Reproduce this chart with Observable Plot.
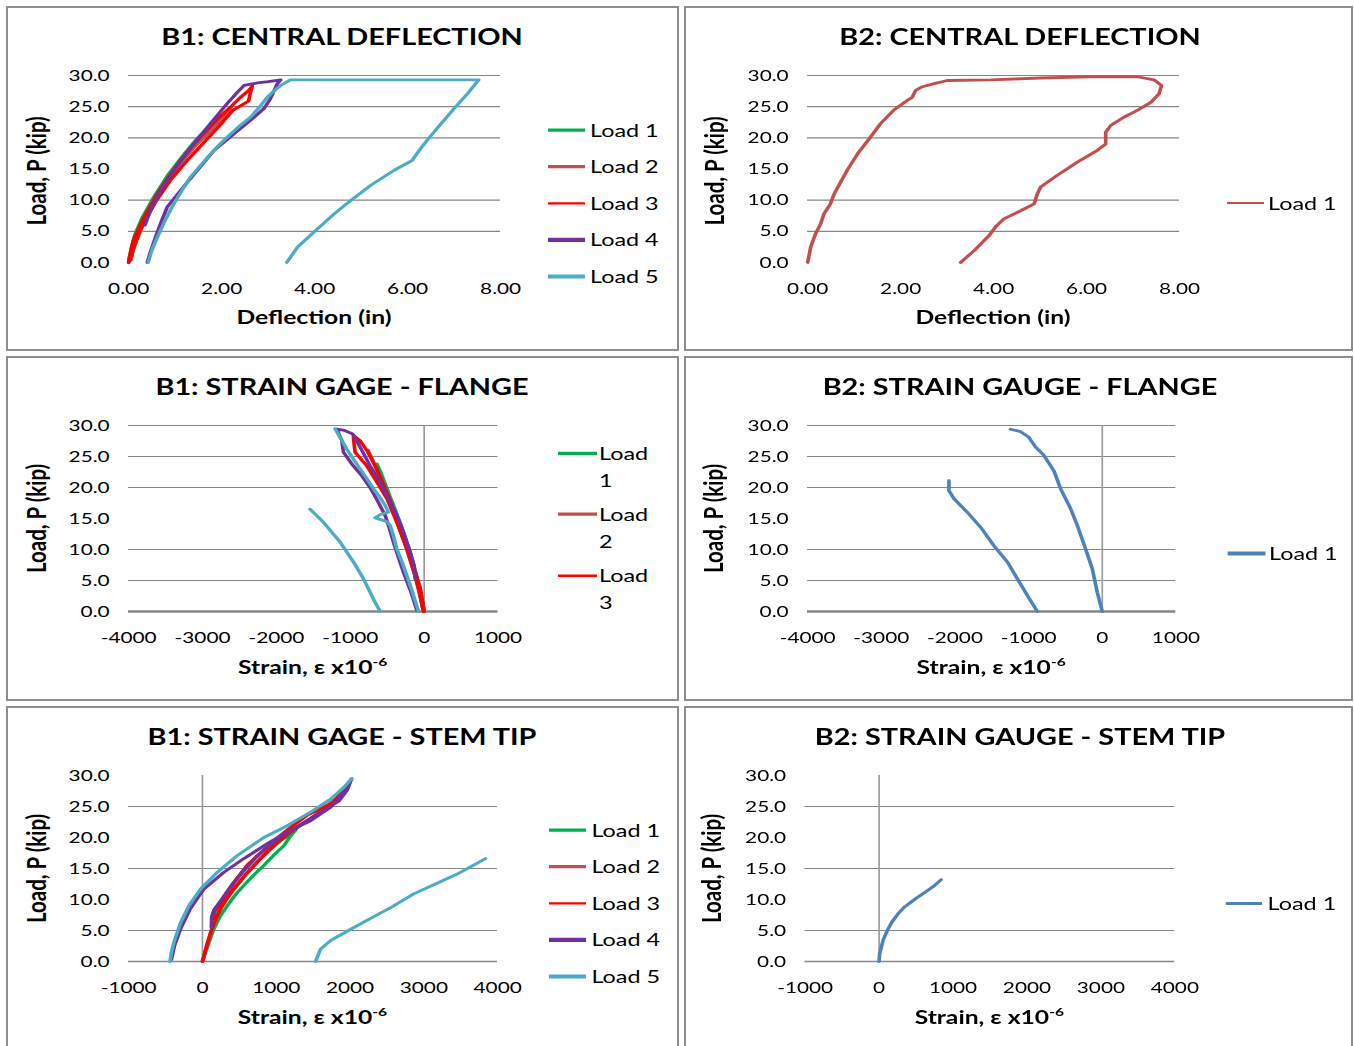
<!DOCTYPE html>
<html><head><meta charset="utf-8">
<script src="https://cdn.jsdelivr.net/npm/d3@7"></script>
<script src="https://cdn.jsdelivr.net/npm/@observablehq/plot@0.6"></script>
<style>
html,body{margin:0;padding:0;background:#fff;overflow:hidden;width:1354px;height:1046px;}
.panel{position:absolute;overflow:hidden;}
.inner{position:absolute;left:0;top:0;transform-origin:0 0;}
.inner svg{position:absolute;left:0;top:0;}
.frame{position:absolute;left:0;top:0;right:0;bottom:0;border:2px solid #8e8e8e;box-sizing:border-box;}
</style></head><body>
<script>
// ---------------- data ----------------
const loadTicks = [0, 5, 10, 15, 20, 25, 30];
const deflTicks = [0, 2, 4, 6, 8];
const flangeTicks = [-4000, -3000, -2000, -1000, 0, 1000];
const stemTicks = [-1000, 0, 1000, 2000, 3000, 4000];
const gridMain = [5, 10, 20, 25, 30];
const gridStem = [5, 15, 25];

const loadNames = ["Load 1", "Load 2", "Load 3", "Load 4", "Load 5"];
const loadColors = ["#00B050", "#C0504D", "#FF0000", "#7030A0", "#4BACC6"];
const b2DeflColor = "#C0504D";
const b2StrainColor = "#4F81BD";

// B1 central deflection [deflection in, load kip]
const b1DeflLoad1 = [[0,0],[0.06,2.4],[0.14,4.6],[0.3,7.3],[0.55,10.6],[0.85,14.1],[1.15,17.0],[1.45,19.7],[1.7,21.6],[1.8,22.2],[1.72,21.3],[1.5,19.6],[1.2,16.7],[0.9,13.6],[0.58,9.8],[0.28,5.6],[0.1,2.2],[0.05,0.4]];
const b1DeflLoad2 = [[0,0],[0.12,4.0],[0.4,8.0],[0.7,12.0],[1.0,15.2],[1.32,18.3],[1.65,21.0],[1.98,23.4],[2.2,24.8],[2.15,24.2],[1.85,21.8],[1.5,19.2],[1.15,16.3],[0.82,13.0],[0.48,9.2],[0.2,4.6],[0.04,0.5]];
const b1DeflLoad3 = [[0,0],[0.02,1.0],[0.1,3.5],[0.25,6.0],[0.4,8.2],[0.62,11.0],[0.85,13.6],[1.1,16.2],[1.38,18.8],[1.65,21.0],[1.92,23.1],[2.2,25.0],[2.42,26.6],[2.58,27.6],[2.66,28.3],[2.62,27.3],[2.58,25.9],[2.42,25.2],[2.24,24.4],[1.95,21.9],[1.6,19.1],[1.25,16.3],[0.9,13.2],[0.55,9.4],[0.25,5.2],[0.08,1.8],[0.03,0.3]];
const b1DeflLoad4 = [[0.35,6.0],[0.48,8.6],[0.69,11.55],[0.97,14.8],[1.15,16.6],[1.4,19.0],[1.76,22.3],[2.12,25.5],[2.3,27.0],[2.48,28.4],[2.77,28.8],[3.0,29.0],[3.27,29.3],[3.2,28.7],[3.13,27.6],[3.05,26.3],[2.91,24.7],[2.62,22.8],[2.26,20.6],[1.84,18.0],[1.48,14.8],[1.12,11.6],[0.83,8.9],[0.7,6.5],[0.58,4.1],[0.46,1.5],[0.4,0]];
const b1DeflLoad5 = [[0.42,0],[0.5,2.0],[0.62,4.1],[0.8,7.0],[0.97,9.4],[1.15,11.6],[1.33,13.7],[1.55,15.6],[1.76,17.4],[1.98,19.1],[2.19,20.6],[2.4,22.0],[2.62,23.3],[2.8,24.8],[2.98,26.5],[3.12,27.5],[3.27,28.4],[3.48,29.3],[4.5,29.3],[5.5,29.3],[6.5,29.3],[7.53,29.3],[7.3,27.2],[7.0,24.7],[6.7,22.1],[6.42,19.6],[6.25,18.0],[6.1,16.4],[5.71,14.8],[5.2,12.35],[4.77,9.9],[4.42,7.8],[3.99,4.9],[3.63,2.45],[3.4,0]];

// B2 central deflection
const b2DeflLoad1 = [[0,0],[0.065,2.45],[0.17,4.6],[0.28,6.2],[0.35,7.8],[0.49,9.4],[0.57,11.0],[0.71,12.9],[0.85,14.8],[1.07,17.4],[1.32,19.8],[1.57,22.3],[1.86,24.5],[2.14,26.0],[2.25,26.5],[2.32,27.6],[2.47,28.2],[2.72,28.7],[3.0,29.2],[3.94,29.3],[5.01,29.6],[6.09,29.8],[7.09,29.8],[7.45,29.3],[7.61,28.4],[7.56,27.1],[7.38,25.7],[7.09,24.4],[6.8,23.3],[6.52,22.0],[6.41,20.9],[6.41,19.0],[6.23,18.0],[5.8,16.1],[5.37,14.0],[5.01,12.1],[4.94,11.0],[4.87,9.4],[4.58,8.3],[4.22,7.0],[4.04,5.7],[3.9,4.3],[3.58,1.9],[3.29,0]];

// B1 strain gage - flange [microstrain, load kip]
const b1FlangeLoad1 = [[0,0],[-50,3.5],[-180,9.2],[-315,14.0],[-470,18.8],[-590,22.5],[-640,23.8],[-610,22.6],[-490,18.6],[-340,13.8],[-200,9.0],[-70,3.5],[-10,0]];
const b1FlangeLoad2 = [[0,0],[-55,3.7],[-190,9.0],[-330,14.0],[-505,19.2],[-650,23.0],[-760,26.0],[-700,24.5],[-560,20.5],[-400,15.5],[-240,10.2],[-110,5.2],[-15,0.3]];
const b1FlangeLoad3 = [[0,0],[-54,3.7],[-190,9.0],[-325,13.9],[-505,19.2],[-641,23.0],[-777,26.0],[-870,27.6],[-958,28.4],[-950,27.2],[-935,25.7],[-777,23.5],[-641,20.9],[-505,18.2],[-370,14.4],[-234,10.1],[-122,5.8],[-60,3.0],[-9,0]];
const b1FlangeLoad4 = [[-122,5.3],[-136,7.4],[-190,9.6],[-280,12.8],[-370,15.5],[-461,17.6],[-596,20.9],[-732,23.5],[-844,26.0],[-958,28.5],[-980,28.7],[-1080,29.2],[-1183,29.4],[-1150,28.5],[-1115,27.6],[-1093,25.7],[-980,23.8],[-844,21.9],[-732,20.0],[-633,17.9],[-528,15.5],[-470,13.4],[-416,11.2],[-350,8.8],[-280,6.3],[-180,3.2],[-99,0.2]];
const b1FlangeLoad5 = [[-77,0],[-160,3.2],[-234,5.8],[-300,8.0],[-370,10.1],[-420,12.4],[-461,13.9],[-505,14.5],[-664,15.1],[-600,15.6],[-484,16.0],[-528,17.1],[-610,18.6],[-687,19.8],[-780,21.5],[-867,23.0],[-960,24.6],[-1047,26.2],[-1130,27.9],[-1206,29.5],[NaN,NaN],[-1545,16.5],[-1364,14.4],[-1138,11.2],[-958,8.0],[-822,5.3],[-687,2.0],[-596,0]];

// B2 strain gauge - flange
const b2FlangeLoad1 = [[0,0],[-68,3.1],[-136,6.9],[-227,10.1],[-339,13.9],[-430,16.6],[-566,19.8],[-657,22.7],[-793,25.2],[-905,26.5],[-996,28.1],[-1109,29.0],[-1245,29.4],[NaN,NaN],[-2082,21.1],[-2082,19.5],[-2014,18.2],[-1832,16.0],[-1652,13.6],[-1471,10.6],[-1289,8.0],[-1154,5.3],[-1018,2.6],[-882,0]];

// B1 strain gage - stem tip
const b1StemLoad1 = [[0,0],[43,1.5],[100,3.5],[156,5.3],[240,7.3],[337,9.0],[450,10.8],[563,12.3],[700,14.0],[833,15.5],[970,17.2],[1104,18.7],[1180,20.0],[1240,20.9],[1300,21.8],[1250,21.0],[1060,19.5],[800,16.8],[560,13.6],[340,10.4],[200,8.0],[160,7.2]];
const b1StemLoad2 = [[0,0],[55,2.4],[115,4.8],[250,8.6],[430,11.8],[655,15.0],[925,18.3],[1195,21.0],[1466,23.1],[1700,25.0],[1800,26.2],[1700,25.3],[1420,23.7],[1060,20.4],[610,15.6],[340,11.3],[160,8.1],[150,7.2]];
const b1StemLoad3 = [[0,0],[50,2.2],[111,4.7],[180,6.8],[247,8.5],[330,10.2],[427,11.7],[540,13.4],[653,14.9],[790,16.6],[924,18.2],[1060,19.6],[1195,20.9],[1330,22.0],[1466,23.0],[1600,24.1],[1737,25.2],[1790,25.9],[1828,26.5],[1870,27.2],[1917,27.9],[1860,26.6],[1783,25.7],[1600,24.6],[1421,23.6],[1240,22.0],[1060,20.3],[830,18.0],[608,15.5],[460,13.3],[337,11.2],[230,9.2],[156,8.0],[147,6.9]];
const b1StemLoad4 = [[120,5.5],[125,7.2],[160,8.4],[260,10.0],[400,12.4],[560,14.6],[720,16.7],[900,18.7],[1080,20.3],[1280,21.7],[1480,23.2],[1680,24.6],[1850,25.9],[1960,27.6],[2022,29.5],[1917,27.3],[1737,24.9],[1466,22.7],[1150,20.9],[879,19.0],[562,16.6],[291,14.4],[20,11.7],[-170,8.4],[-295,5.3],[-380,2.5],[-420,0.3]];
const b1StemLoad5 = [[-440,0],[-420,1.5],[-386,3.1],[-295,6.3],[-183,9.0],[-24,11.7],[202,14.4],[473,17.1],[833,20.0],[1150,21.9],[1466,24.1],[1737,26.2],[1917,28.1],[2022,29.5],[NaN,NaN],[3835,16.6],[3452,14.1],[3157,12.5],[2862,10.9],[2568,8.8],[2273,6.9],[1978,5.0],[1740,3.4],[1600,2.0],[1533,0]];

// B2 strain gauge - stem tip
const b2StemLoad1 = [[0,0],[7,1.2],[53,3.4],[111,5.0],[169,6.3],[257,7.7],[344,8.8],[490,10.1],[636,11.3],[745,12.2],[839,13.2]];

// ---------------- drawing ----------------
const S = 1.3;  // horizontal stretch of the reference picture
const FONT = "Lato, 'Open Sans', sans-serif";

function makePanel(c) {
  const panel = document.createElement("div");
  panel.className = "panel";
  Object.assign(panel.style, {left: c.left + "px", top: c.top + "px", width: c.width + "px", height: c.height + "px"});
  const inner = document.createElement("div");
  inner.className = "inner";
  const iw = c.width / S;
  Object.assign(inner.style, {width: iw + "px", height: c.height + "px", transform: `scaleX(${S})`});

  const marks = [];
  marks.push(Plot.ruleY(c.grid, {stroke: "#868686", strokeWidth: 1.2}));
  if (c.zeroV) marks.push(Plot.ruleX([0], {stroke: "#9c9c9c", strokeWidth: 1.3}));
  if (c.zeroH) marks.push(Plot.ruleY([0], {stroke: "#868686", strokeWidth: c.zeroH}));
  for (const s of c.series) {
    marks.push(Plot.line(s.data, {x: d => d[0], y: d => d[1], stroke: s.color, strokeWidth: s.width || 2.8, strokeLinejoin: "round", strokeLinecap: "round"}));
  }
  marks.push(Plot.axisX({ticks: c.xTicks, tickFormat: c.xFormat, tickSize: 0, tickPadding: 20.5, label: null}));
  marks.push(Plot.axisY({ticks: loadTicks, tickFormat: d => d.toFixed(1), tickSize: 0, tickPadding: 19 / S, label: null}));

  const svg = Plot.plot({
    width: iw, height: c.height,
    marginLeft: c.px0 / S, marginRight: (c.width - c.px1) / S,
    marginTop: c.py0, marginBottom: c.height - c.py1,
    x: {domain: c.xDomain}, y: {domain: [0, 30]},
    style: {background: "none", fontFamily: FONT, fontSize: "16px", color: "#000", overflow: "visible"},
    marks
  });
  inner.appendChild(svg);

  // text overlay
  const ov = d3.create("svg").attr("width", iw).attr("height", c.height)
    .style("font-family", FONT).style("overflow", "visible");
  ov.append("text").attr("x", 336 / S).attr("y", 39.5).attr("text-anchor", "middle")
    .attr("font-weight", 700).attr("font-size", 22.2).text(c.title);
  const xl = ov.append("text").attr("x", (c.px0 + c.px1) / 2 / S).attr("y", 318).attr("text-anchor", "middle")
    .attr("font-weight", 700).attr("font-size", 19);
  if (c.strain) {
    xl.append("tspan").text("Strain, ε x10");
    xl.append("tspan").attr("font-size", 12).attr("dy", -8).text("-6");
  } else {
    xl.text("Deflection (in)");
  }
  ov.append("text").attr("transform", `translate(${c.yLabX / S},${c.yLabY}) rotate(-90)`)
    .attr("text-anchor", "middle").attr("font-weight", 700).attr("font-size", 20.5).text("Load, P (kip)");

  const lg = c.legend;
  lg.items.forEach((it, i) => {
    const b = lg.baselines[i];
    const cy = b - 6.6;
    ov.append("line").attr("x1", lg.x0 / S).attr("x2", lg.x1 / S).attr("y1", cy).attr("y2", cy)
      .attr("stroke", it.color).attr("stroke-width", it.sw);
    if (lg.wrap) {
      const parts = it.name.split(" ");
      ov.append("text").attr("x", lg.tx / S).attr("y", b).attr("font-size", 18).text(parts[0]);
      ov.append("text").attr("x", lg.tx / S).attr("y", b + 27).attr("font-size", 18).text(parts[1]);
    } else {
      ov.append("text").attr("x", lg.tx / S).attr("y", b).attr("font-size", 18).text(it.name);
    }
  });
  inner.appendChild(ov.node());

  panel.appendChild(inner);
  const frame = document.createElement("div");
  frame.className = "frame";
  panel.appendChild(frame);
  document.body.appendChild(panel);
}

const fmt2 = d => d.toFixed(2);
const fmt0 = d => String(d);
const fiveBaselines = [130.7, 167.3, 204, 240.5, 277.1];
const swW = [3.3, 3.3, 2.4, 4.3, 4.0];

function b1Series(arrs) {
  return arrs.map((a, i) => ({data: a, color: loadColors[i]}));
}
function b1Legend(n, x0, x1, tx, baselines, wrap) {
  return {items: loadNames.slice(0, n).map((nm, i) => ({name: nm, color: loadColors[i], sw: swW[i]})), x0, x1, tx, baselines, wrap};
}

const L = 6, R = 684, WL = 673, WR = 669, H = 345;
const tops = [6, 356, 706];

makePanel({left: L, top: tops[0], width: WL, height: H, px0: 122, px1: 494, py0: 69, py1: 256,
  xDomain: [0, 8], xTicks: deflTicks, xFormat: fmt2, grid: gridMain,
  series: b1Series([b1DeflLoad1, b1DeflLoad2, b1DeflLoad3, b1DeflLoad4, b1DeflLoad5]),
  title: "B1: CENTRAL DEFLECTION", yLabX: 40, yLabY: 165,
  legend: b1Legend(5, 542, 579, 584, fiveBaselines, false)});

makePanel({left: R, top: tops[0], width: WR, height: H, px0: 123, px1: 495, py0: 69, py1: 256,
  xDomain: [0, 8], xTicks: deflTicks, xFormat: fmt2, grid: gridMain,
  series: [{data: b2DeflLoad1, color: b2DeflColor}],
  title: "B2: CENTRAL DEFLECTION", yLabX: 40, yLabY: 165,
  legend: {items: [{name: "Load 1", color: b2DeflColor, sw: 2.2}], x0: 543, x1: 580, tx: 584, baselines: [203.6], wrap: false}});

makePanel({left: L, top: tops[1], width: WL, height: H, px0: 122, px1: 491.4, py0: 69, py1: 255,
  xDomain: [-4000, 1000], xTicks: flangeTicks, xFormat: fmt0, grid: gridMain, zeroV: true, zeroH: 2.4, strain: true,
  series: b1Series([b1FlangeLoad1, b1FlangeLoad2, b1FlangeLoad3, b1FlangeLoad4, b1FlangeLoad5]),
  title: "B1: STRAIN GAGE - FLANGE", yLabX: 40, yLabY: 162.5,
  legend: b1Legend(3, 552, 591, 593, [104, 164.7, 226.3], true)});

makePanel({left: R, top: tops[1], width: WR, height: H, px0: 123, px1: 491.3, py0: 69, py1: 255,
  xDomain: [-4000, 1000], xTicks: flangeTicks, xFormat: fmt0, grid: gridMain, zeroV: true, zeroH: 2.4, strain: true,
  series: [{data: b2FlangeLoad1, color: b2StrainColor}],
  title: "B2: STRAIN GAUGE - FLANGE", yLabX: 39, yLabY: 162.5,
  legend: {items: [{name: "Load 1", color: b2StrainColor, sw: 4}], x0: 543.6, x1: 581.4, tx: 585, baselines: [204], wrap: false}});

makePanel({left: L, top: tops[2], width: WL, height: H, px0: 122, px1: 491, py0: 69, py1: 255,
  xDomain: [-1000, 4000], xTicks: stemTicks, xFormat: fmt0, grid: gridStem, zeroV: true, zeroH: 1.5, strain: true,
  series: b1Series([b1StemLoad1, b1StemLoad2, b1StemLoad3, b1StemLoad4, b1StemLoad5]),
  title: "B1: STRAIN GAGE - STEM TIP", yLabX: 40, yLabY: 162.5,
  legend: b1Legend(5, 543, 580, 585.4, fiveBaselines, false)});

makePanel({left: R, top: tops[2], width: WR, height: H, px0: 120.5, px1: 490.2, py0: 69, py1: 255,
  xDomain: [-1000, 4000], xTicks: stemTicks, xFormat: fmt0, grid: gridStem, zeroV: true, zeroH: 1.5, strain: true,
  series: [{data: b2StemLoad1, color: b2StrainColor}],
  title: "B2: STRAIN GAUGE - STEM TIP", yLabX: 37.5, yLabY: 162.5,
  legend: {items: [{name: "Load 1", color: b2StrainColor, sw: 3}], x0: 541.8, x1: 578, tx: 583.6, baselines: [204], wrap: false}});
</script>
</body></html>
